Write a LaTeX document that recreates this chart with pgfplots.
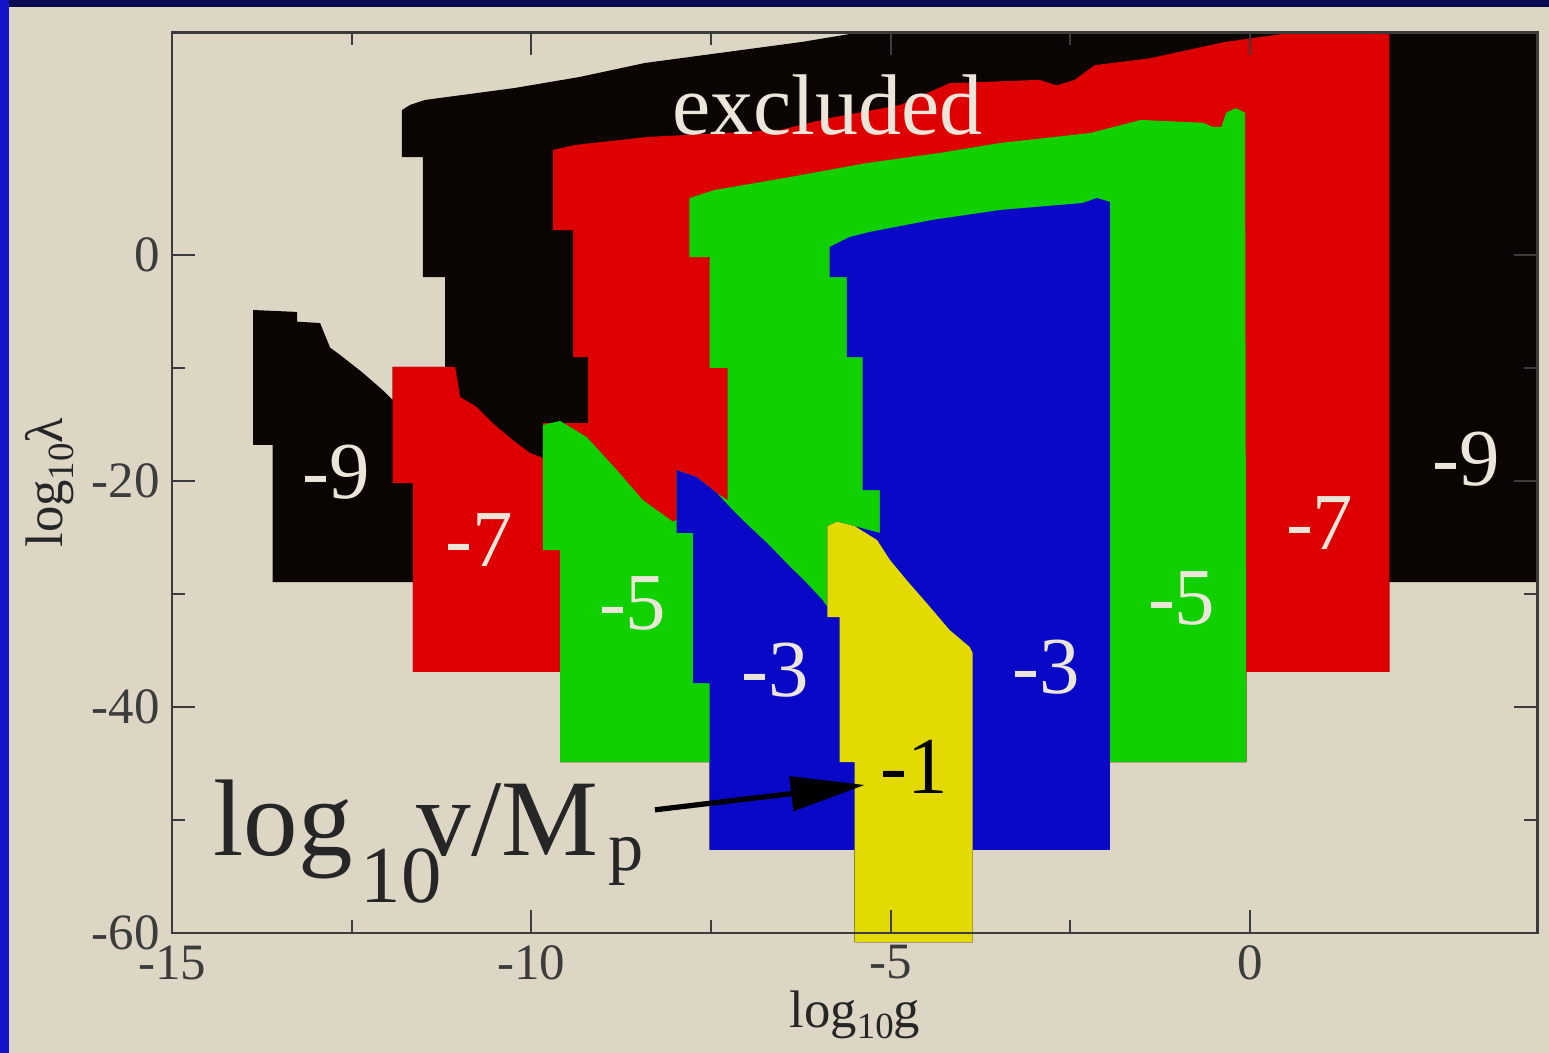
\documentclass[border=0pt]{standalone}
\usepackage{fontspec}
\setmainfont{Liberation Serif}
\usepackage{pgfplots}
\pgfplotsset{compat=1.18}
\usetikzlibrary{arrows.meta}
\definecolor{bg}{RGB}{222,214,197}
\definecolor{cblack}{RGB}{10,4,2}
\definecolor{cred}{RGB}{222,0,0}
\definecolor{cgreen}{RGB}{16,208,0}
\definecolor{cblue}{RGB}{8,8,198}
\definecolor{cyellow}{RGB}{226,218,0}
\definecolor{txtwhite}{RGB}{236,230,218}
\definecolor{axisgray}{RGB}{60,60,60}
\definecolor{navy}{RGB}{10,10,80}
\definecolor{lblue}{RGB}{20,20,200}
\begin{document}
\begin{tikzpicture}
\path[use as bounding box] (-1.72,-1.20) rectangle (13.77,9.33);
\fill[bg] (-1.72,-1.20) rectangle (13.77,9.33);
\fill[navy] (-1.72,9.26) rectangle (13.77,9.33);
\fill[lblue] (-1.72,-1.20) rectangle (-1.63,9.33);
\begin{axis}[at={(0,0)}, anchor=south west, scale only axis,
  width=13.655cm, height=9.006cm,
  xmin=-15, xmax=4, ymin=-60, ymax=19.7, clip=false, axis on top,
  xtick={-15,-10,-5,0}, xticklabels={-15,-10,-5,0},
  ytick={-60,-40,-20,0}, yticklabels={-60,-40,-20,0},
  minor x tick num=1, minor y tick num=1,
  xtick pos=both, ytick pos=both, xticklabel pos=lower, yticklabel pos=left,
  major tick length=0.23cm, minor tick length=0.13cm,
  tick style={color=axisgray, line width=0.6pt},
  axis line style={color=axisgray, line width=0.8pt},
  ticklabel style={font=\fontsize{14.5}{16}\selectfont, text=axisgray},
  xlabel={log\raisebox{-0.45ex}{\fontsize{10.5}{11}\selectfont 10}g},
  ylabel={log\raisebox{-0.45ex}{\fontsize{10.5}{11}\selectfont 10}λ},
  label style={font=\fontsize{15}{17}\selectfont, text=black!85},
  xlabel style={at={(axis description cs:0.5,-0.091)}, anchor=center},
  ylabel style={at={(axis description cs:-0.0893,0.5)}, anchor=center},
]
% black (union)
\addplot[fill=cblack, draw=none] coordinates {
(-11.80,12.83) (-11.69,13.27) (-11.48,13.72) (-10.23,14.78) (-9.33,15.75) (-8.42,16.99) (-6.24,18.85) (-5.43,19.7) (4,19.7) (4,-28.94) (1.94,-28.94) (1.94,-36.90) (-0.05,-36.90) (-0.05,-44.87) (-1.95,-44.87) (-1.95,-52.65) (-3.86,-52.65) (-3.86,-60.8) (-5.50,-60.8) (-5.50,-52.65) (-7.52,-52.65) (-7.52,-44.87) (-9.60,-44.87) (-9.60,-36.90) (-11.65,-36.90) (-11.65,-28.94) (-13.60,-28.94) (-13.60,-16.81) (-13.87,-16.81) (-13.87,-4.87) (-13.26,-5.04) (-13.26,-5.9) (-12.94,-6.02) (-12.80,-8.2) (-12.66,-8.85) (-12.35,-10.4) (-12.07,-11.95) (-11.93,-12.83) (-11.93,-9.91) (-11.20,-9.91) (-11.20,-1.95) (-11.51,-1.95) (-11.51,8.67) (-11.80,8.67)
};
% red (union)
\addplot[fill=cred, draw=none] coordinates {
(-9.70,9.29) (-9.40,9.73) (-8.39,10.44) (-6.54,11.06) (-5.85,12.12) (-4.87,13.27) (-4.18,15.2) (-2.93,15.5) (-2.69,15.0) (-2.44,15.5) (-2.16,16.8) (-1.40,17.4) (-0.35,18.85) (0.61,19.7) (1.94,19.7) (1.94,-36.90) (-0.05,-36.90) (-0.05,-44.87) (-1.95,-44.87) (-1.95,-52.65) (-3.86,-52.65) (-3.86,-60.8) (-5.50,-60.8) (-5.50,-52.65) (-7.52,-52.65) (-7.52,-44.87) (-9.60,-44.87) (-9.60,-36.90) (-11.65,-36.90) (-11.65,-20.18) (-11.93,-20.18) (-11.93,-9.91) (-11.06,-9.91) (-10.99,-12.57) (-10.76,-13.45) (-10.54,-14.87) (-10.26,-16.37) (-10.02,-17.52) (-9.84,-17.96) (-9.84,-14.87) (-9.21,-14.87) (-9.21,-9.03) (-9.42,-9.03) (-9.42,2.21) (-9.70,2.21)
};
% green (union)
\addplot[fill=cgreen, draw=none] coordinates {
(-7.80,5.04) (-7.45,5.75) (-6.40,6.90) (-5.33,8.14) (-4.32,9.03) (-3.48,9.91) (-2.22,10.80) (-1.52,11.95) (-0.65,11.7) (-0.52,11.33) (-0.40,11.33) (-0.33,12.6) (-0.20,13.0) (-0.07,12.6) (-0.05,-44.87) (-1.95,-44.87) (-1.95,-52.65) (-3.86,-52.65) (-3.86,-60.8) (-5.50,-60.8) (-5.50,-52.65) (-7.52,-52.65) (-7.52,-44.87) (-9.60,-44.87) (-9.60,-26.11) (-9.84,-26.11) (-9.84,-15.04) (-9.60,-14.69) (-9.23,-16.11) (-8.81,-19.03) (-8.45,-21.68) (-8.03,-23.6) (-7.98,-23.45) (-7.98,-19.03) (-7.70,-19.65) (-7.42,-21.06) (-7.27,-21.7) (-7.27,-10.00) (-7.52,-10.00) (-7.52,-0.18) (-7.80,-0.18)
};
% blue (union)
\addplot[fill=cblue, draw=none] coordinates {
(-5.85,0.71) (-5.57,1.59) (-5.29,2.04) (-4.42,3.10) (-3.48,3.98) (-2.33,4.60) (-2.13,5.04) (-1.95,4.7) (-1.95,-52.65) (-3.86,-52.65) (-3.86,-60.8) (-5.50,-60.8) (-5.50,-52.65) (-7.52,-52.65) (-7.52,-37.88) (-7.75,-37.88) (-7.75,-24.60) (-7.98,-24.60) (-7.98,-19.03) (-7.70,-19.65) (-7.42,-21.06) (-7.20,-22.57) (-6.96,-24.07) (-6.72,-25.49) (-6.45,-27.26) (-6.17,-29.03) (-5.95,-30.53) (-5.88,-31.15) (-5.88,-24.0) (-5.75,-23.6) (-5.50,-24.0) (-5.15,-24.60) (-5.15,-20.80) (-5.39,-20.80) (-5.39,-9.03) (-5.61,-9.03) (-5.61,-1.95) (-5.85,-1.95)
};
% yellow
\addplot[fill=cyellow, draw=none] coordinates {
(-5.88,-24.0) (-5.75,-23.6) (-5.50,-24.0) (-5.19,-25.22) (-5.01,-26.99) (-4.78,-28.76) (-4.50,-30.80) (-4.18,-33.19) (-3.90,-34.69) (-3.86,-35.2) (-3.86,-60.8) (-5.50,-60.8) (-5.50,-44.87) (-5.71,-44.87) (-5.71,-32.04) (-5.88,-32.04)
};
% labels
\tikzset{lab/.style={text=txtwhite, font=\fontsize{23}{25}\selectfont, inner sep=0pt}}
\node[lab] at (axis cs:-12.71,-19.2) {-9};
\node[lab] at (axis cs:-10.72,-25.2) {-7};
\node[lab] at (axis cs:-8.59,-30.8) {-5};
\node[lab] at (axis cs:-6.61,-36.7) {-3};
\node[lab] at (axis cs:-2.83,-36.5) {-3};
\node[lab] at (axis cs:-0.95,-30.4) {-5};
\node[lab] at (axis cs:0.97,-23.7) {-7};
\node[lab] at (axis cs:3.01,-18.1) {-9};
\node[lab, text=black] at (axis cs:-4.67,-45.3) {-1};
\node[text=txtwhite, font=\fontsize{24.5}{26}\selectfont, anchor=base, inner sep=0pt] at (axis cs:-5.88,10.62) {excluded};
\node[text=black!85, font=\fontsize{31}{34}\selectfont, anchor=base west, inner sep=0pt] at (axis cs:-14.43,-53.1)
  {log\kern0.08cm\raisebox{-0.47cm}{\fontsize{23}{25}\selectfont 10}\kern-0.25cm v/M\kern0.1cm\raisebox{-0.15cm}{\fontsize{20}{22}\selectfont p}};
\draw[-{Triangle[length=0.74cm,width=0.34cm]}, line width=1.5pt, black] (axis cs:-8.28,-49.1) -- (axis cs:-5.36,-46.9);
\end{axis}
\end{tikzpicture}
\end{document}
